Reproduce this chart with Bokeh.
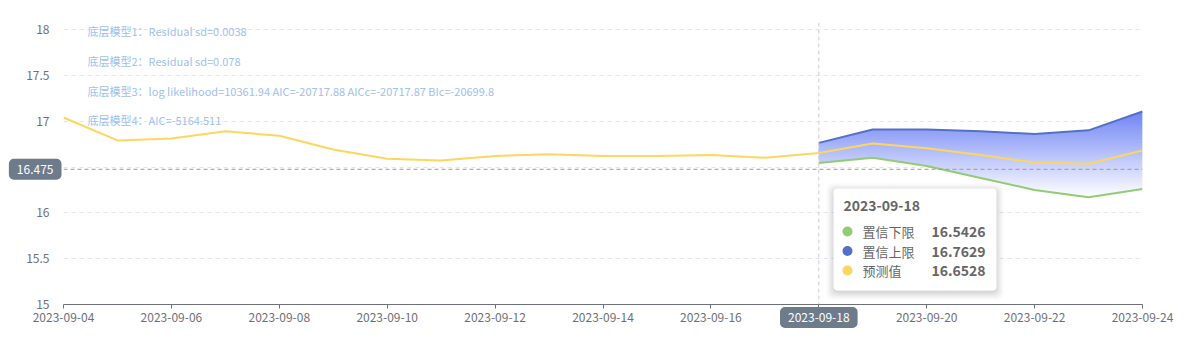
import pandas as pd
from bokeh.plotting import figure
from bokeh.models import (ColumnDataSource, Span, Label, BoxAnnotation, FixedTicker,
                          DatetimeTickFormatter, Range1d)
from bokeh.embed import file_html
from bokeh.resources import INLINE

# ---------------- data ----------------
dates = ["2023-09-04", "2023-09-05", "2023-09-06", "2023-09-07", "2023-09-08", "2023-09-09",
         "2023-09-10", "2023-09-11", "2023-09-12", "2023-09-13", "2023-09-14", "2023-09-15",
         "2023-09-16", "2023-09-17", "2023-09-18", "2023-09-19", "2023-09-20", "2023-09-21",
         "2023-09-22", "2023-09-23", "2023-09-24"]
pred = [17.04, 16.79, 16.81, 16.89, 16.84, 16.69, 16.59, 16.57, 16.62, 16.64, 16.62, 16.62,
        16.63, 16.60, 16.6528, 16.756, 16.705, 16.63, 16.55, 16.535, 16.68]
band_dates = ["2023-09-18", "2023-09-19", "2023-09-20", "2023-09-21", "2023-09-22",
              "2023-09-23", "2023-09-24"]
lower = [16.5426, 16.60, 16.51, 16.38, 16.25, 16.17, 16.26]
upper = [16.7629, 16.91, 16.91, 16.89, 16.86, 16.90, 17.105]
x_ticks = ["2023-09-04", "2023-09-06", "2023-09-08", "2023-09-10", "2023-09-12", "2023-09-14",
           "2023-09-16", "2023-09-18", "2023-09-20", "2023-09-22", "2023-09-24"]
y_ticks = [15, 15.5, 16, 16.5, 17, 17.5, 18]
mark_value = 16.475
focus_date = "2023-09-18"
notes = ["底层模型1：Residual sd=0.0038",
         "底层模型2：Residual sd=0.078",
         "底层模型3：log likelihood=10361.94 AIC=-20717.88 AICc=-20717.87 BIc=-20699.8",
         "底层模型4：AIC=-5164.511"]
names = ["置信下限", "置信上限", "预测值"]

C_LOW, C_UP, C_PRED = "#91cc75", "#5470c6", "#fdd660"
C_PTR = "#6e7b8b"
FONT = "Noto Sans CJK SC"

def ms(s):
    return pd.Timestamp(s).value / 1e6

x_all = [ms(d) for d in dates]
x_band = [ms(d) for d in band_dates]
x0, x1 = ms(dates[0]), ms(dates[-1])

# frame geometry (pixels) used for overlay positions
FL, FR, FT, FB = 63, 1142, 29, 304
TOP_B = 22
def px2x(px):
    return x0 + (px - FL) / (FR - FL) * (x1 - x0)
def px2y(py):
    return 18 - (py - FT) / (FB - FT) * 3

p = figure(width=1186, height=338, output_backend="svg", toolbar_location=None,
           x_axis_type="datetime", min_border_left=FL, min_border_right=1186 - FR,
           min_border_top=TOP_B, min_border_bottom=338 - FB)
p.x_range = Range1d(x0, x1)
p.y_range = Range1d(15, px2y(TOP_B))
p.outline_line_color = None
p.background_fill_color = "white"
p.border_fill_color = "white"

# axes
p.xaxis.ticker = FixedTicker(ticks=[ms(t) for t in x_ticks])
p.xaxis.formatter = DatetimeTickFormatter(days="%Y-%m-%d", months="%Y-%m-%d", hours="%Y-%m-%d")
p.xaxis.axis_line_color = "#6e7079"
p.xaxis.major_tick_line_color = "#6e7079"
p.xaxis.major_tick_out = 4
p.xaxis.major_tick_in = 0
p.xaxis.minor_tick_line_color = None
p.xaxis.major_label_text_color = "#6e7079"
p.xaxis.major_label_text_font = FONT
p.xaxis.major_label_text_font_size = "12px"
p.xaxis.major_label_standoff = 4

p.yaxis.ticker = FixedTicker(ticks=y_ticks)
p.yaxis.major_label_overrides = {16.5: ""}
p.yaxis.axis_line_color = None
p.yaxis.major_tick_line_color = None
p.yaxis.minor_tick_line_color = None
p.yaxis.major_label_text_color = "#6e7079"
p.yaxis.major_label_text_font = FONT
p.yaxis.major_label_text_font_size = "12px"
p.yaxis.major_label_standoff = 8

p.xgrid.grid_line_color = None
p.ygrid.grid_line_color = "#e0e6f1"
p.ygrid.grid_line_dash = "4 4"

# gradient band via horizontal slices of the band polygon
poly = list(zip(x_band, upper)) + list(zip(x_band[::-1], lower[::-1]))

def clip(polygon, yv, keep_above):
    out = []
    n = len(polygon)
    for i in range(n):
        cx, cy = polygon[i]
        px_, py_ = polygon[i - 1]
        cin = cy >= yv if keep_above else cy <= yv
        pin = py_ >= yv if keep_above else py_ <= yv
        if cin:
            if not pin:
                t = (yv - py_) / (cy - py_)
                out.append((px_ + t * (cx - px_), yv))
            out.append((cx, cy))
        elif pin:
            t = (yv - py_) / (cy - py_)
            out.append((px_ + t * (cx - px_), yv))
    return out

ytop, ybot = max(upper), min(lower)
N = 60
top_rgb = (112, 132, 245)
bot_rgb = (255, 255, 255)
xs, ys, cols = [], [], []
for k in range(N):
    a = ybot + (ytop - ybot) * k / N
    b = ybot + (ytop - ybot) * (k + 1) / N + (ytop - ybot) / N * 0.6
    piece = clip(clip(poly, a, True), b, False)
    if len(piece) < 3:
        continue
    f = (k + 0.5) / N
    rgb = tuple(int(round(bot_rgb[i] + (top_rgb[i] - bot_rgb[i]) * f)) for i in range(3))
    xs.append([q[0] for q in piece])
    ys.append([q[1] for q in piece])
    cols.append("#%02x%02x%02x" % rgb)
p.patches(xs="xs", ys="ys", fill_color="cols", line_color=None,
          source=ColumnDataSource(dict(xs=xs, ys=ys, cols=cols)))

# lines
p.line(x_band, lower, line_color=C_LOW, line_width=2)
p.line(x_band, upper, line_color=C_UP, line_width=2)
p.line(x_all, pred, line_color=C_PRED, line_width=2)

# axis pointers
p.add_layout(Span(location=mark_value, dimension="width", line_color="#9a9a9a",
                  line_dash="4 3", line_width=1))
p.add_layout(Span(location=ms(focus_date), dimension="height", line_color="#cccccc",
                  line_dash="4 3", line_width=1))
# pointer labels live in side panels so they are not clipped to the frame
p.add_layout(Label(x=px2x(56), y=mark_value, text=f"{mark_value:g}", text_align="right",
                   text_baseline="middle", text_color="white", text_font=FONT,
                   text_font_size="12px", background_fill_color=C_PTR,
                   padding=dict(left=3, right=3, top=1, bottom=1),
                   border_line_color=C_PTR, border_line_width=10,
                   border_line_join="round"), "right")
p.add_layout(Label(x=ms(focus_date), y=px2y(317), text=focus_date, text_align="center",
                   text_baseline="middle", text_color="white", text_font=FONT,
                   text_font_size="12px", background_fill_color=C_PTR,
                   padding=dict(left=3, right=3, top=1, bottom=1),
                   border_line_color=C_PTR, border_line_width=10,
                   border_line_join="round"), "above")

# model notes
note_px_y = [30, 60, 90, 119]
for t, py in zip(notes, note_px_y):
    p.add_layout(Label(x=px2x(87), y=px2y(py), text=t, text_align="left",
                       text_baseline="middle", text_color="#a0c0ee", text_font=FONT,
                       text_font_size="11px"))

# tooltip
for g, al in [(7, 0.025), (5, 0.035), (3, 0.045), (1, 0.05)]:
    p.add_layout(BoxAnnotation(left=px2x(833 - g), right=px2x(996 + g), top=px2y(188 - g + 2),
                               bottom=px2y(290 + g + 2), fill_color="#000000", fill_alpha=al,
                               line_color=None, border_radius=6, level="annotation"))
p.add_layout(BoxAnnotation(left=px2x(833), right=px2x(996), top=px2y(188), bottom=px2y(290),
                           fill_color="white", fill_alpha=1, line_color=None, border_radius=4,
                           level="annotation"))
i_f = dates.index(focus_date)
j_f = band_dates.index(focus_date)
tip_vals = [lower[j_f], upper[j_f], pred[i_f]]
tip_cols = [C_LOW, C_UP, C_PRED]
p.add_layout(Label(x=px2x(843), y=px2y(205), text=focus_date, text_align="left",
                   text_baseline="middle", text_color="#666666", text_font=FONT,
                   text_font_size="14px", text_font_style="bold"))
row_py = [231, 250.5, 270]
p.scatter([px2x(847)] * 3, [px2y(r) for r in row_py], size=10, fill_color=tip_cols,
          line_color=None, level="overlay")
for nm, v, r in zip(names, tip_vals, row_py):
    p.add_layout(Label(x=px2x(862), y=px2y(r), text=nm, text_align="left",
                       text_baseline="middle", text_color="#666666", text_font=FONT,
                       text_font_size="13px"))
    p.add_layout(Label(x=px2x(985), y=px2y(r), text=f"{v:.4f}", text_align="right",
                       text_baseline="middle", text_color="#666666", text_font=FONT,
                       text_font_size="14px", text_font_style="bold"))

open("out.html", "w").write(file_html(p, INLINE))
